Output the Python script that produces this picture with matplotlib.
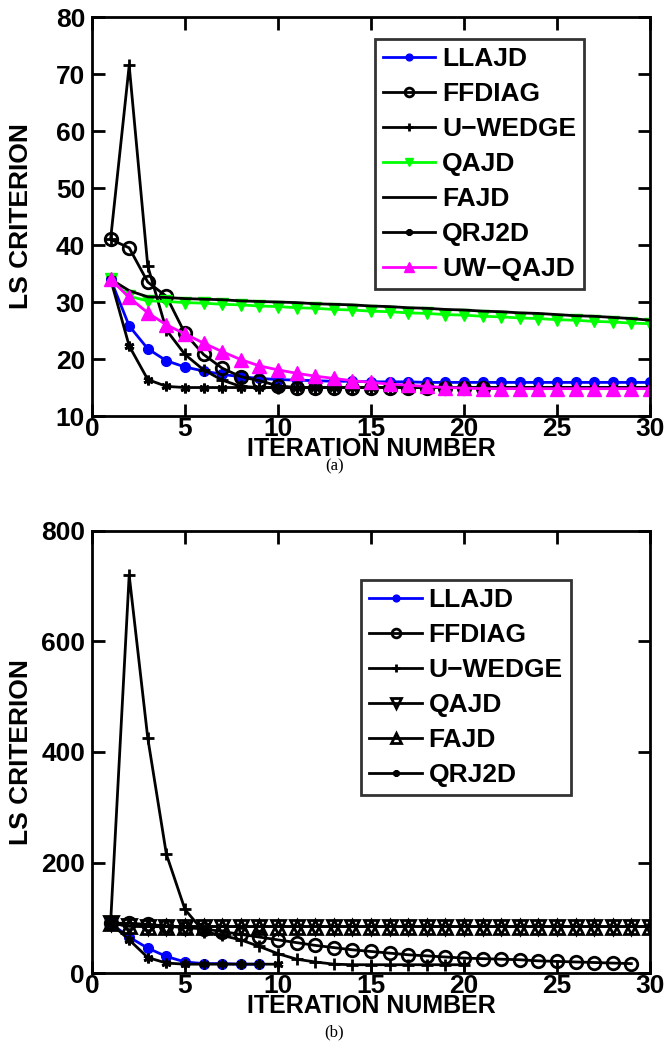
import numpy as np
import matplotlib
matplotlib.use('Agg')
import matplotlib.pyplot as plt

plt.rcParams['font.family'] = ['Liberation Sans', 'DejaVu Sans']
plt.rcParams['font.weight'] = 'bold'

# ---------- panel (a) data ----------
x_a = list(range(1, 31))
llajd_a = [34, 25.8, 21.8, 19.7, 18.6, 17.9, 17.3, 16.9, 16.6, 16.4, 16.3, 16.2, 16.1, 16.1, 16.0,
           16.0, 16.0, 15.9, 15.9, 15.9, 15.9, 15.9, 15.9, 15.9, 15.9, 15.9, 15.9, 15.9, 15.9, 15.9]
ffdiag_a = [41, 39.5, 33.5, 31.0, 24.5, 20.8, 18.4, 16.9, 16.2, 15.3, 15.0, 15.0, 15.0, 15.0, 15.0,
            15.0, 15.0, 15.0, 15.0, 15.0, 15.0]
uwedge_a = [41, 71.5, 36.3, 25.1, 20.8, 18.1, 16.3, 15.2, 15.0, 15.0, 15.0, 15.0, 15.0, 15.0, 15.0,
            15.0, 15.0, 15.0, 15.0, 15.0, 15.0, 15.0, 15.0, 15.0, 15.0, 15.0, 15.0, 15.0, 15.0, 15.0]
qajd_a = [34, 31.0, 30.2, 30.1, 29.9, 29.8, 29.6, 29.5, 29.3, 29.2, 29.0, 28.9, 28.7, 28.6, 28.4,
          28.3, 28.1, 28.0, 27.8, 27.7, 27.5, 27.4, 27.2, 27.1, 26.9, 26.8, 26.6, 26.5, 26.3, 26.2]
fajd_a = [34, 32.0, 30.9, 30.8, 30.6, 30.5, 30.4, 30.2, 30.1, 30.0, 29.9, 29.7, 29.6, 29.5, 29.3,
          29.2, 29.0, 28.9, 28.7, 28.6, 28.4, 28.3, 28.1, 28.0, 27.8, 27.6, 27.5, 27.3, 27.1, 26.8]
qrj2d_a = [34, 22.3, 16.4, 15.2, 15.0, 15.0, 15.0, 15.0, 15.0, 15.0, 15.0, 15.0, 15.0, 15.0, 15.0,
           15.0, 15.0, 15.0, 15.0, 15.0, 15.0, 15.0, 15.0, 15.0, 15.0, 15.0, 15.0, 15.0, 15.0, 15.0]
uwqajd_a = [34, 30.8, 28.1, 26.0, 24.4, 22.8, 21.3, 19.9, 18.8, 18.1, 17.5, 17.0, 16.6, 16.2, 15.9,
            15.6, 15.4, 15.2, 15.0, 14.9, 14.8, 14.8, 14.8, 14.8, 14.8, 14.8, 14.8, 14.8, 14.8, 14.8]

# ---------- panel (b) data ----------
llajd_b = [90, 65, 45, 30, 20, 17, 17, 16, 16]
ffdiag_b = [90, 90, 88, 85, 82, 80, 75, 70, 65, 60, 55, 50, 46, 42, 39, 36, 33, 31, 29, 27,
            26, 25, 24, 22, 21, 20, 19, 18, 17]
uwedge_b = [90, 720, 425, 215, 115, 75, 68, 60, 48, 35, 25, 20, 16, 15, 15, 15, 15, 15, 15, 15]
qajd_b = [90, 85, 84, 84, 84, 84, 84, 84, 84, 84, 84, 84, 84, 84, 84, 84, 84, 84, 84, 84,
          84, 84, 84, 84, 84, 84, 84, 84, 84, 84]
fajd_b = [90, 85, 84, 84, 84, 84, 84, 84, 84, 84, 84, 84, 84, 84, 84, 84, 84, 84, 84, 84,
          84, 84, 84, 84, 84, 84, 84, 84, 84, 84]
qrj2d_b = [90, 60, 28, 18, 16, 16, 16, 16, 16, 16]

asterisk = (6, 2, 0)
fig = plt.figure(figsize=(6.69, 10.44), dpi=100)


def style_axes(ax, yticks):
    ax.set_xlim(0, 30)
    ax.set_xticks([0, 5, 10, 15, 20, 25, 30])
    ax.set_yticks(yticks)
    ax.set_ylim(yticks[0], yticks[-1])
    ax.tick_params(direction='in', top=True, right=True, length=9, width=2, labelsize=19)
    ax.tick_params(axis='x', pad=0.5)
    ax.tick_params(axis='y', pad=5)
    for s in ax.spines.values():
        s.set_linewidth(2)
    for lab in ax.get_xticklabels() + ax.get_yticklabels():
        lab.set_fontweight('bold')
    ax.set_xlabel('ITERATION NUMBER', fontsize=18, fontweight='bold', va='top')
    ax.set_ylabel('LS CRITERION', fontsize=19, fontweight='bold')
    ax.yaxis.set_label_coords(-0.106, 0.5)


def style_legend(leg):
    leg.get_frame().set_linewidth(2)
    for t in leg.get_texts():
        t.set_fontweight('bold')


lw = 2
# panel (a): top 17 px, bottom 416 px
ax1 = fig.add_axes([0.1375, 0.6015, 0.834, 0.3822])
ax1.plot(x_a[:len(llajd_a)], llajd_a, color='blue', lw=lw, marker='o', ms=7, label='LLAJD')
ax1.plot(x_a[:len(ffdiag_a)], ffdiag_a, color='black', lw=lw, marker='o', ms=9, mfc='none', mew=2, label='FFDIAG')
ax1.plot(x_a, uwedge_a, color='black', lw=lw, marker='+', ms=9, mew=2, label='U\u2212WEDGE')
ax1.plot(x_a, qajd_a, color='#00ff00', lw=lw, marker='v', ms=9, label='QAJD')
ax1.plot(x_a, fajd_a, color='black', lw=lw, label='FAJD')
ax1.plot(x_a, qrj2d_a, color='black', lw=lw, marker=asterisk, ms=7, mew=2, label='QRJ2D')
ax1.plot(x_a, uwqajd_a, color='magenta', lw=lw, marker='^', ms=10, label='UW\u2212QAJD')
style_axes(ax1, [10, 20, 30, 40, 50, 60, 70, 80])
ax1.xaxis.set_label_coords(0.5, -0.052)
leg1 = ax1.legend(loc='upper right', bbox_to_anchor=(0.882, 0.945), fontsize=19, frameon=True,
                  fancybox=False, edgecolor='black', handlelength=2.0, handletextpad=0.25,
                  labelspacing=0.42, borderpad=0.3, borderaxespad=0, markerscale=0.7)
style_legend(leg1)

# panel (b): top 531 px, bottom 973 px
ax2 = fig.add_axes([0.1375, 0.068, 0.834, 0.4234])
ax2.plot(x_a[:len(llajd_b)], llajd_b, color='blue', lw=lw, marker='o', ms=7, label='LLAJD')
ax2.plot(x_a[:len(ffdiag_b)], ffdiag_b, color='black', lw=lw, marker='o', ms=9, mfc='none', mew=2, label='FFDIAG')
ax2.plot(x_a[:len(uwedge_b)], uwedge_b, color='black', lw=lw, marker='+', ms=9, mew=2, label='U\u2212WEDGE')
ax2.plot(x_a, qajd_b, color='black', lw=lw, marker='v', ms=10, mfc='none', mew=2, label='QAJD')
ax2.plot(x_a, fajd_b, color='black', lw=lw, marker='^', ms=10, mfc='none', mew=2, label='FAJD')
ax2.plot(x_a[:len(qrj2d_b)], qrj2d_b, color='black', lw=lw, marker=asterisk, ms=7, mew=2, label='QRJ2D')
style_axes(ax2, [0, 200, 400, 600, 800])
ax2.xaxis.set_label_coords(0.5, -0.048)
leg2 = ax2.legend(loc='upper right', bbox_to_anchor=(0.858, 0.889), fontsize=19, frameon=True,
                  fancybox=False, edgecolor='black', handlelength=2.0, handletextpad=0.25,
                  labelspacing=0.42, borderpad=0.3, borderaxespad=0, markerscale=0.7)
style_legend(leg2)

fig.text(0.5, 1 - 466 / 1044, '(a)', ha='center', va='center', fontsize=12, family='Liberation Serif',
         fontweight='normal')
fig.text(0.5, 1 - 1032 / 1044, '(b)', ha='center', va='center', fontsize=12, family='Liberation Serif',
         fontweight='normal')

fig.savefig('out.png', dpi=100)
